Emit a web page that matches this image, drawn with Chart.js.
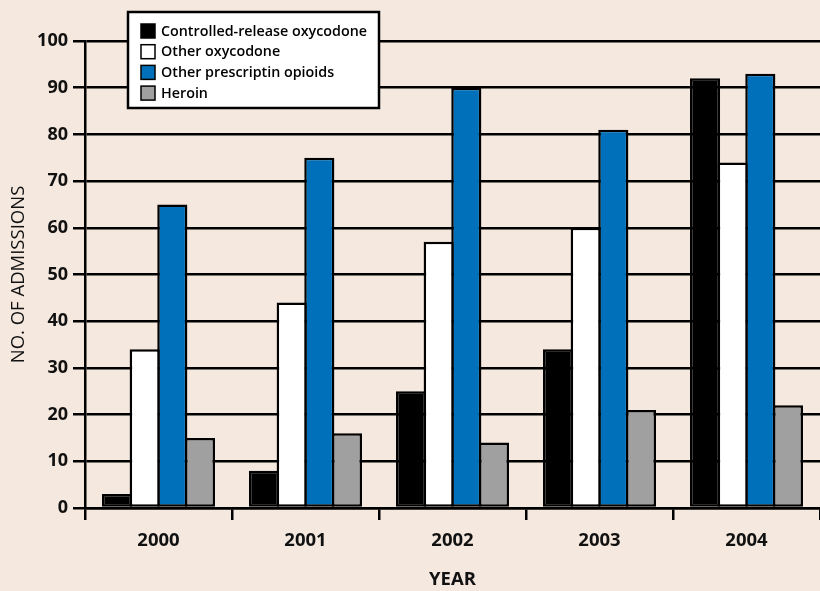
<!DOCTYPE html>
<html>
<head>
<meta charset="utf-8">
<title>Admissions by opioid type, 2000–2004</title>
<script src="https://cdn.jsdelivr.net/npm/chart.js@4/dist/chart.umd.min.js"></script>
<style>
  html, body { margin: 0; padding: 0; background: #f5e8df; }
  #wrap { width: 820px; height: 591px; position: relative; }
</style>
</head>
<body>
<div id="wrap"><canvas id="chart" width="820" height="591"></canvas></div>
<script>
// Admissions per year, by substance
const years = ['2000', '2001', '2002', '2003', '2004'];
const controlledRelease = [3, 8, 25, 34, 92];
const otherOxycodone = [34, 44, 57, 60, 74];
const otherOpioids = [65, 75, 90, 81, 93];
const heroin = [15, 16, 14, 21, 22];

const seriesLabels = ['Controlled-release oxycodone', 'Other oxycodone', 'Other prescriptin opioids', 'Heroin'];
const seriesColors = ['#000000', '#ffffff', '#0070bb', '#a0a0a0'];
const yTicks = [0, 10, 20, 30, 40, 50, 60, 70, 80, 90, 100];

const BG = '#f5e8df';
const FONT = "'Open Sans', 'DejaVu Sans', sans-serif";

// Page background behind the plot
const backgroundPlugin = {
  id: 'pageBackground',
  beforeDraw(chart) {
    const ctx = chart.ctx;
    ctx.save();
    ctx.fillStyle = BG;
    ctx.fillRect(0, 0, chart.width, chart.height);
    ctx.restore();
  }
};

// Boxed legend in the upper-left corner of the plot
const boxLegendPlugin = {
  id: 'boxLegend',
  afterDraw(chart) {
    const ctx = chart.ctx;
    const x = 128, y = 12, w = 251, h = 96;
    ctx.save();
    ctx.fillStyle = '#ffffff';
    ctx.fillRect(x, y, w, h);
    ctx.strokeStyle = '#000000';
    ctx.lineWidth = 2.5;
    ctx.strokeRect(x, y, w, h);
    ctx.font = '600 14.3px ' + FONT;
    ctx.textBaseline = 'middle';
    chart.data.datasets.forEach((ds, i) => {
      const cy = 31 + i * 20.7;
      ctx.fillStyle = ds.backgroundColor;
      ctx.fillRect(141, cy - 7, 14, 14);
      ctx.lineWidth = 1.5;
      ctx.strokeStyle = '#000000';
      ctx.strokeRect(141, cy - 7, 14, 14);
      ctx.fillStyle = '#000000';
      ctx.fillText(ds.label, 161, cy + 0.5);
    });
    ctx.restore();
  }
};

const seriesData = [controlledRelease, otherOxycodone, otherOpioids, heroin];

new Chart(document.getElementById('chart'), {
  type: 'bar',
  data: {
    labels: years,
    datasets: seriesData.map((values, i) => ({
      label: seriesLabels[i],
      data: values,
      backgroundColor: seriesColors[i],
      borderColor: '#000000',
      borderWidth: 2.5,
      borderSkipped: false,
      // neighbouring bars overlap by one border width so they share an edge
      categoryPercentage: 0.752,
      barPercentage: 1.09
    }))
  },
  options: {
    responsive: false,
    animation: false,
    devicePixelRatio: 1,
    layout: { padding: { top: 41, right: 0, left: 0, bottom: 0 } },
    plugins: {
      legend: { display: false },
      tooltip: { enabled: false }
    },
    scales: {
      x: {
        offset: true,
        grid: {
          offset: true,
          drawOnChartArea: false,
          drawTicks: true,
          tickLength: 12,
          color: '#000000',
          lineWidth: 2.5
        },
        border: { display: true, color: '#000000', width: 2.5 },
        ticks: {
          color: '#111111',
          font: { family: FONT, size: 18.5, weight: 'bold' },
          padding: 10
        },
        title: {
          display: true,
          text: 'YEAR',
          color: '#111111',
          font: { family: FONT, size: 18.5, weight: 'bold' },
          padding: { top: 10, bottom: 0 }
        },
        afterFit(scale) { scale.height = 83; }
      },
      y: {
        min: 0,
        max: 100,
        afterBuildTicks(scale) { scale.ticks = yTicks.map(v => ({ value: v })); },
        grid: {
          color: '#000000',
          lineWidth: 2.5,
          drawTicks: true,
          tickLength: 12
        },
        border: { display: true, color: '#000000', width: 2.5 },
        ticks: {
          color: '#111111',
          font: { family: FONT, size: 18, weight: 'bold' },
          padding: 5
        },
        title: {
          display: true,
          text: 'NO. OF ADMISSIONS',
          color: '#111111',
          font: { family: FONT, size: 18.5, weight: '500' },
          padding: { top: 8, bottom: 0 }
        },
        afterFit(scale) { scale.width = 85; }
      }
    }
  },
  plugins: [backgroundPlugin, boxLegendPlugin]
});
</script>
</body>
</html>
